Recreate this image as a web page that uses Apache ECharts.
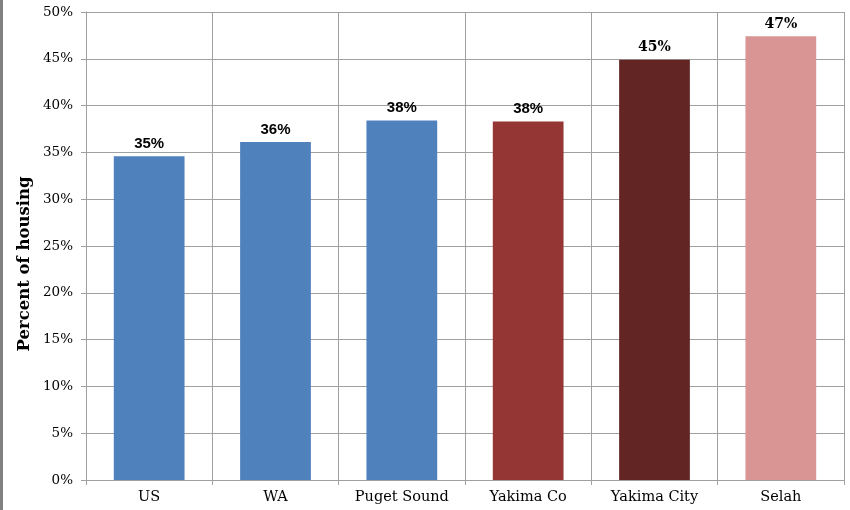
<!DOCTYPE html>
<html>
<head>
<meta charset="utf-8">
<script src="https://cdn.jsdelivr.net/npm/echarts@6/dist/echarts.min.js"></script>
<style>
  html, body { margin: 0; padding: 0; background: #fff; }
  #chart { width: 850px; height: 510px; }
</style>
</head>
<body>
<div id="chart"></div>
<script>
// Share of housing, by area
const categories = ['US', 'WA', 'Puget Sound', 'Yakima Co', 'Yakima City', 'Selah'];
const values = [34.6, 36.1, 38.4, 38.3, 44.9, 47.4];
const barColors = ['#4f81bd', '#4f81bd', '#4f81bd', '#943634', '#632523', '#d99594'];
const labelFonts = ['Liberation Sans', 'Liberation Sans', 'Liberation Sans', 'Liberation Sans', 'DejaVu Serif', 'DejaVu Serif'];
const labelSizes = [15, 15, 15, 15, 14, 14];
const yTitle = 'Percent of housing';

const serif = 'DejaVu Serif';

const chart = echarts.init(document.getElementById('chart'), null, { renderer: 'canvas' });

chart.setOption({
  animation: false,
  backgroundColor: '#fff',
  graphic: [{
    type: 'rect',
    left: 0, top: 0,
    shape: { width: 3, height: 510 },
    style: { fill: '#808080' }
  }, {
    // vertical axis title, sits a little below the plot's midline
    type: 'text',
    x: 25, y: 264,
    rotation: Math.PI / 2,
    style: {
      text: yTitle,
      fill: '#000',
      font: 'bold 16.5px "DejaVu Serif"',
      align: 'center',
      verticalAlign: 'middle'
    }
  }],
  grid: { left: 86, right: 6, top: 12, bottom: 30, containLabel: false },
  xAxis: {
    type: 'category',
    data: categories,
    axisLine: { lineStyle: { color: '#a0a0a0', width: 1 } },
    axisTick: { show: true, alignWithLabel: false, length: 5, lineStyle: { color: '#a0a0a0' } },
    axisLabel: { color: '#000', fontFamily: serif, fontSize: 14.5, margin: 10 },
    splitLine: { show: true, lineStyle: { color: '#a0a0a0', width: 1 } }
  },
  yAxis: {
    type: 'value',
    min: 0, max: 50, interval: 5,
    axisLine: { show: true, lineStyle: { color: '#a0a0a0' } },
    axisTick: { show: true, length: 5, lineStyle: { color: '#a0a0a0' } },
    axisLabel: { color: '#000', fontFamily: serif, fontSize: 13.5, margin: 13, formatter: v => v + '%' },
    splitLine: { show: true, lineStyle: { color: '#a0a0a0', width: 1 } }
  },
  series: [{
    type: 'bar',
    barCategoryGap: '44%',
    data: values.map((v, i) => ({
      value: v,
      itemStyle: { color: barColors[i] },
      label: { fontFamily: labelFonts[i], fontSize: labelSizes[i] }
    })),
    label: {
      show: true,
      position: 'top',
      distance: 5,
      color: '#000',
      fontWeight: 'bold',
      formatter: p => Math.round(p.value) + '%'
    }
  }]
});
</script>
</body>
</html>
